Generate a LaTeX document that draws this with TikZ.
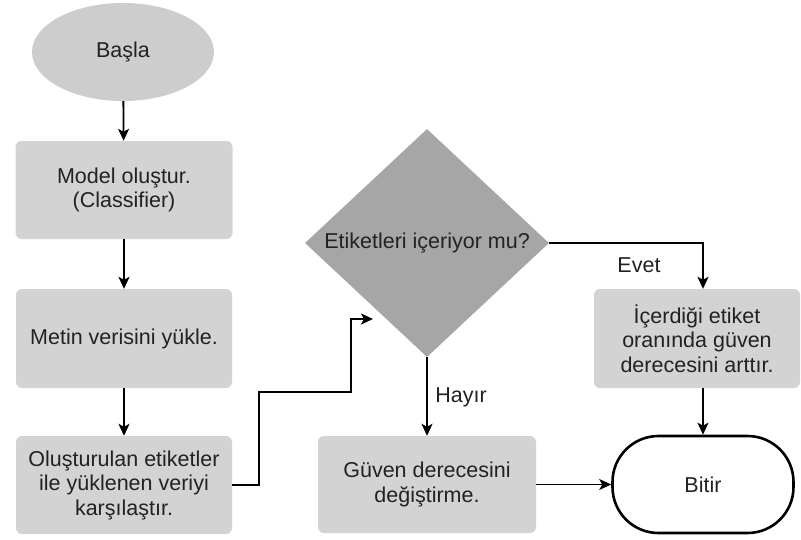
\documentclass[tikz,border=0pt]{standalone}
\usepackage{fontspec}
\setmainfont{Liberation Sans}
\usetikzlibrary{shapes.geometric,arrows.meta}
\definecolor{boxgray}{HTML}{D3D3D3}
\definecolor{startgray}{HTML}{CDCDCD}
\definecolor{decgray}{HTML}{A6A6A6}
\definecolor{txtgray}{HTML}{222222}
\begin{document}
\begin{tikzpicture}[x=1pt,y=-1pt,
  txt/.style={font=\fontsize{21.5}{24.5}\selectfont, text=txtgray, align=center},
  procbox/.style={txt, fill=boxgray, rounded corners=6pt, inner sep=0pt},
  arr/.style={draw=black, line width=1.8pt, -{Stealth[length=12pt,width=11pt,inset=3pt]}},
  lbl/.style={txt, inner sep=1pt}]
\useasboundingbox (0,0) rectangle (801,539);
\fill[white] (0,0) rectangle (801,539);

\node[txt, ellipse, fill=startgray, minimum width=182pt, minimum height=98pt, inner sep=0pt] (start) at (123,52) {Başla};
\node[procbox, minimum width=217pt, minimum height=98pt] (b1) at (124,190) {Model oluştur.\\(Classifier)};
\node[procbox, minimum width=216pt, minimum height=99pt] (b2) at (124,338.5) {Metin verisini yükle.};
\node[procbox, minimum width=216pt, minimum height=98pt] (b3) at (124,485) {Oluşturulan etiketler\\ile yüklenen veriyi\\karşılaştır.};
\node[txt, diamond, fill=decgray, minimum width=244pt, minimum height=228pt, inner sep=0pt] (dec) at (427,243) {Etiketleri içeriyor mu?};
\node[procbox, minimum width=206pt, minimum height=99pt] (b4) at (697,338.5) {İçerdiği etiket\\oranında güven\\derecesini arttır.};
\node[procbox, minimum width=218pt, minimum height=97pt] (b5) at (427,484.5) {Güven derecesini\\değiştirme.};
\node[txt, draw=black, line width=2.6pt, fill=white, rounded corners=46pt, minimum width=181pt, minimum height=97pt, inner sep=0pt] (bitir) at (703,484.5) {Bitir};

\coordinate (j1) at (259,392);
\coordinate (j2) at (351,319);
\coordinate (tip) at (373,319);

\draw[arr] (start) -- (b1);
\draw[arr] (b1) -- (b2);
\draw[arr] (b2) -- (b3);
\draw[arr] (b3.east) -| (j1) -| (j2) -- (tip);
\draw[arr] (dec.east) -| ([xshift=6pt]b4.north);
\draw[arr] ([xshift=6pt]b4.south) -- (bitir.north);
\draw[arr] (dec.south) -- (b5.north);
\draw[arr] (b5.east) -- (bitir.west);

\node[lbl] (evet) at (639,265) {Evet};
\node[lbl] (hayir) at (461,397) {Hayır};
\end{tikzpicture}
\end{document}
